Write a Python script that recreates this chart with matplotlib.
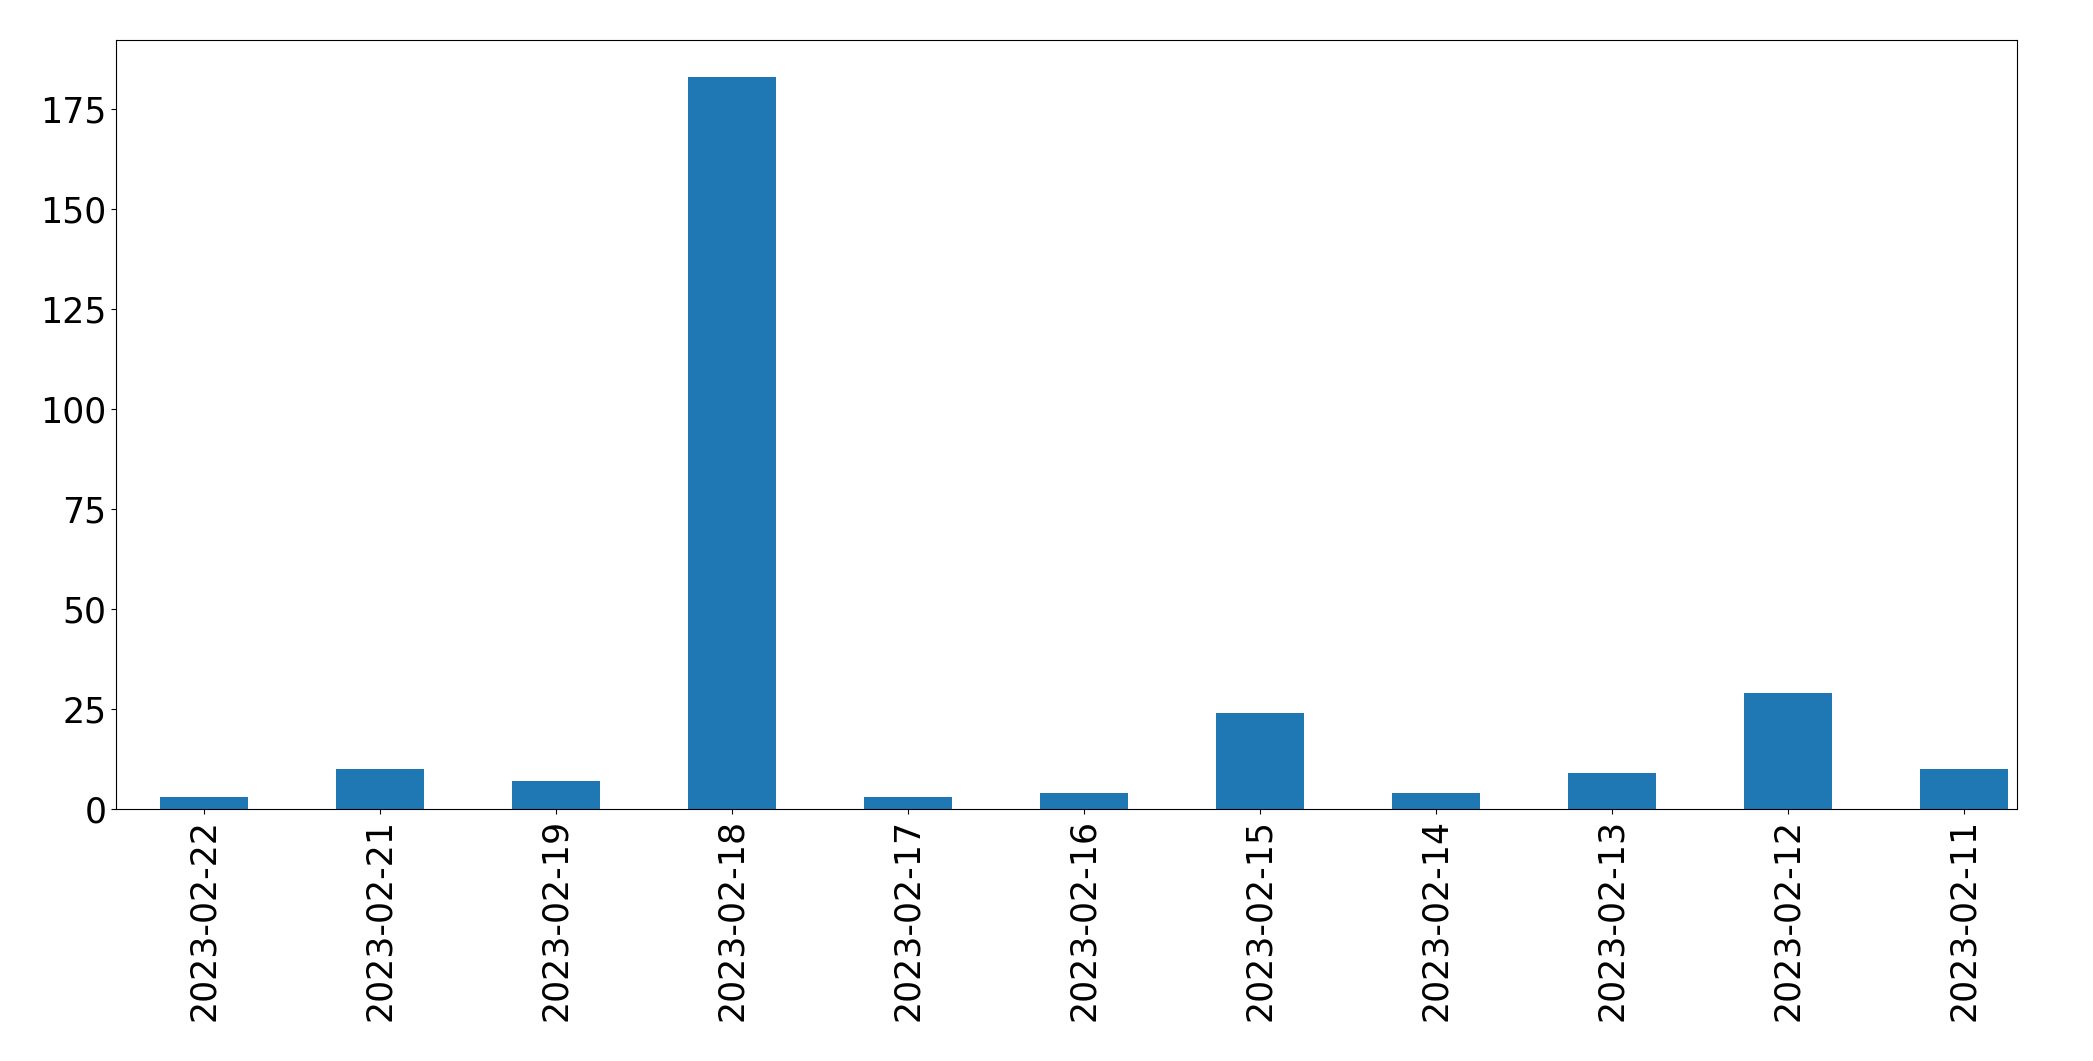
import pandas as pd
import matplotlib.pyplot as plt

# Daily counts, in the order shown
dates = ["2023-02-22", "2023-02-21", "2023-02-19", "2023-02-18", "2023-02-17",
         "2023-02-16", "2023-02-15", "2023-02-14", "2023-02-13", "2023-02-12",
         "2023-02-11"]
counts = [3, 10, 7, 183, 3, 4, 24, 4, 9, 29, 10]

s = pd.Series(counts, index=dates)

fig = plt.figure(figsize=(20.93, 10.61), dpi=100)
ax = fig.add_axes([116 / 2093, 1 - 809 / 1061, (2017 - 116) / 2093, (809 - 40) / 1061])
s.plot(kind="bar", ax=ax, color="#1f77b4")
ax.set_xlim(-0.5, 10.3)
ax.tick_params(axis="both", labelsize=25)

plt.savefig("out.png", dpi=100)
